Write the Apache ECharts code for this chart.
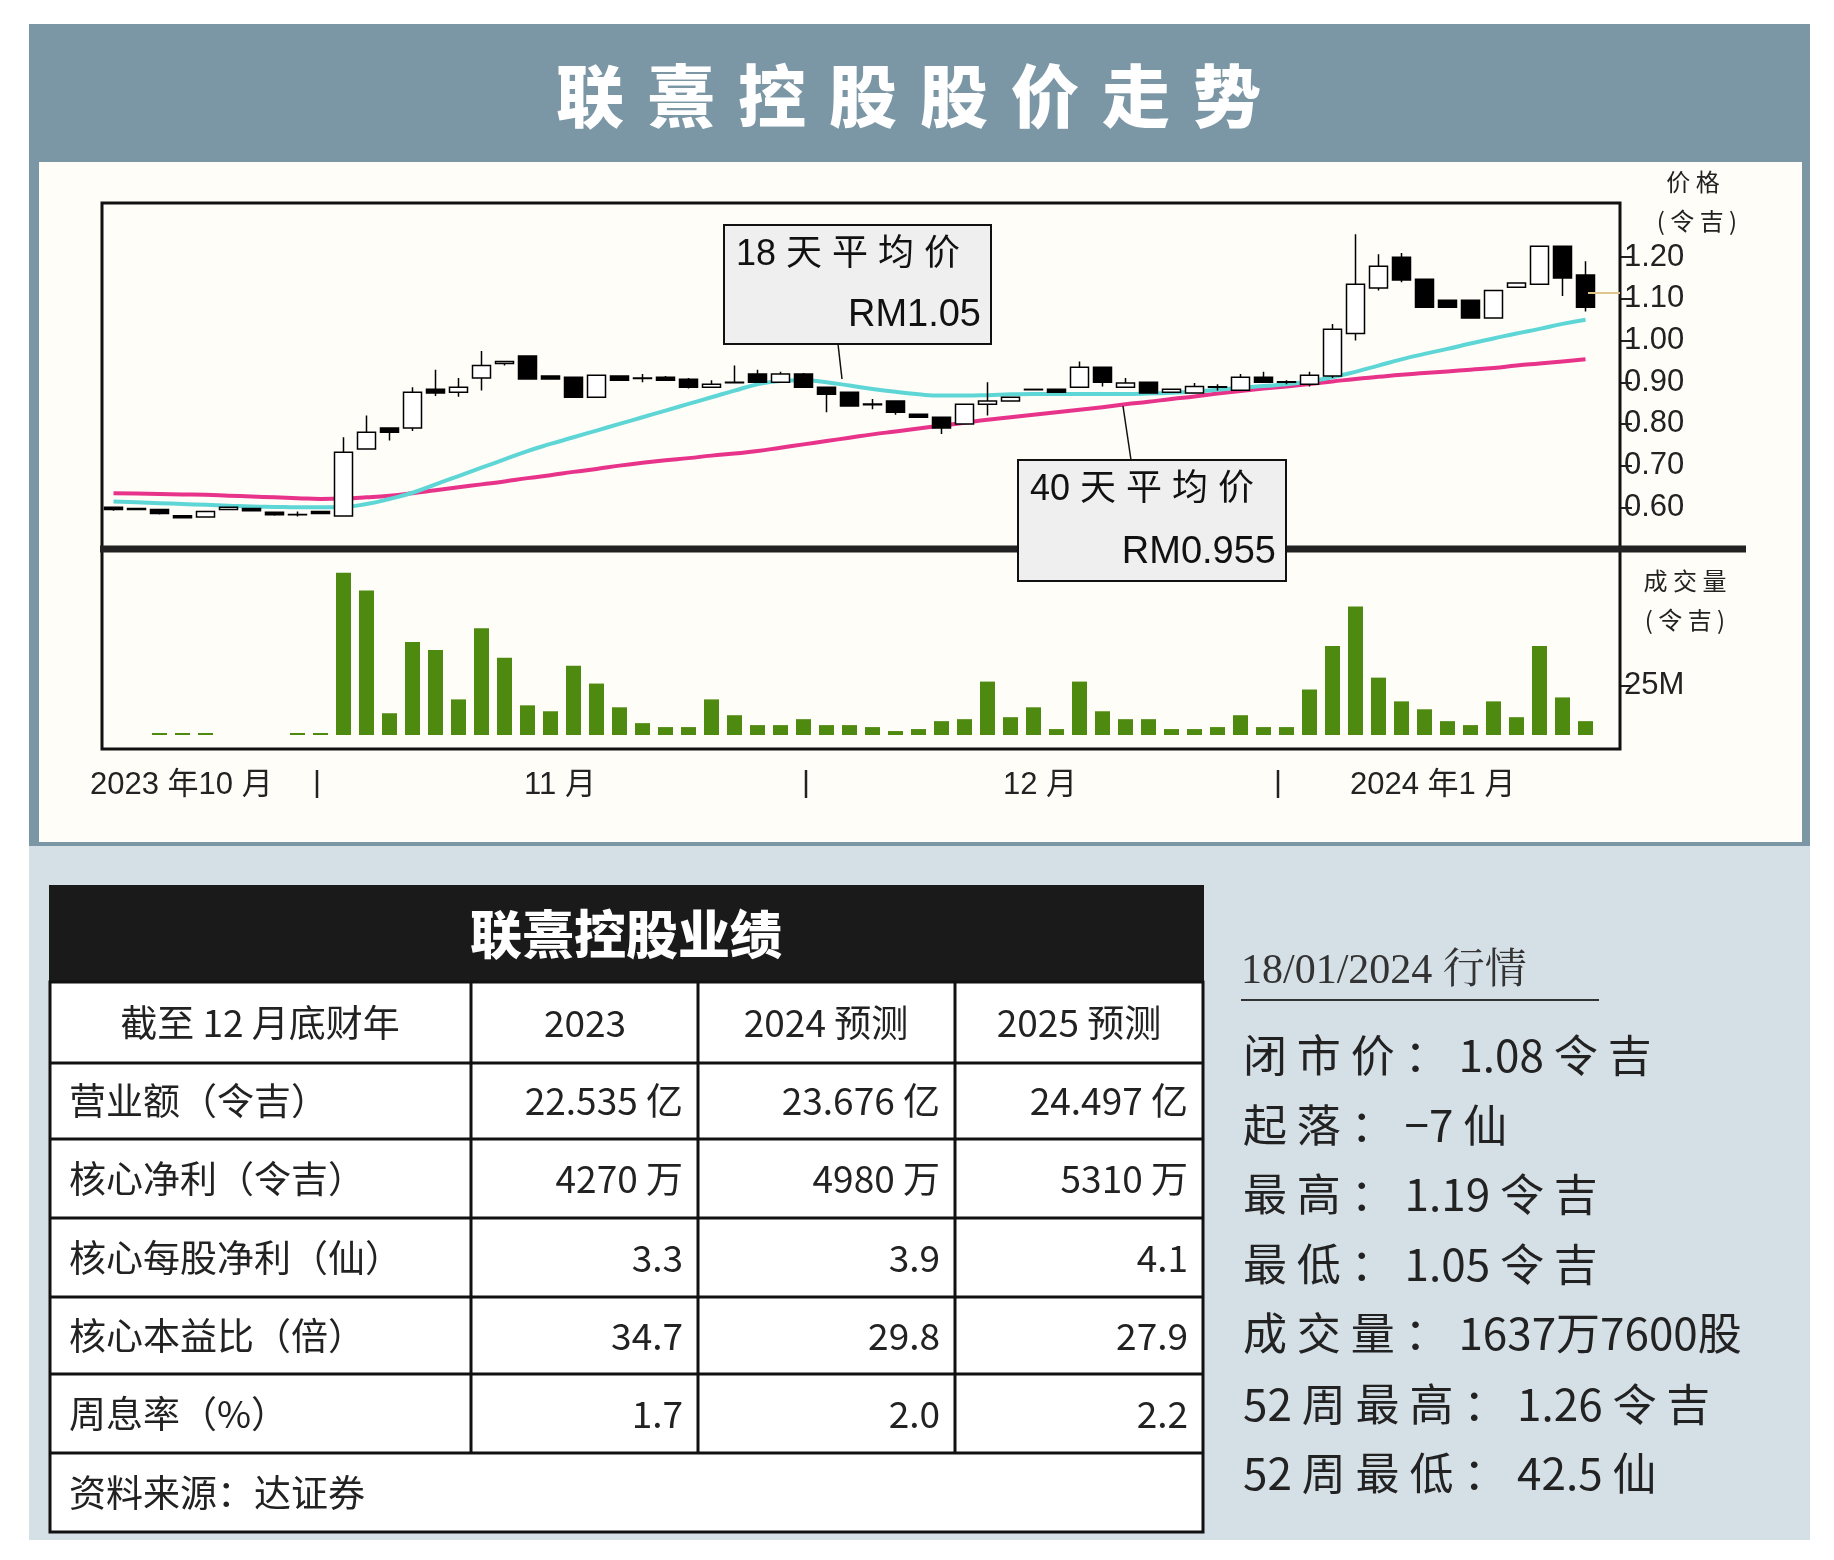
<!DOCTYPE html>
<html><head><meta charset="utf-8">
<script src="https://cdn.jsdelivr.net/npm/echarts@6/dist/echarts.min.js"></script>
<style>html,body{margin:0;padding:0;background:#fff}#c{width:1834px;height:1560px}</style>
</head><body><div id="c"></div>
<script>
const opens=[.600,.595,.595,.580,.577,.595,.597,.588,.583,.590,.579,.740,.790,.790,.883,.876,.910,.945,.963,.915,.912,.864,.915,.910,.912,.907,.888,.900,.920,.900,.920,.888,.876,.848,.855,.823,.816,.800,.847,.855,.883,.883,.888,.936,.888,.900,.876,.874,.889,.881,.912,.901,.895,.915,1.017,1.126,1.200,1.147,1.097,1.097,1.054,1.128,1.135,1.226,1.157];
const closes=[.595,.597,.585,.575,.590,.600,.592,.582,.582,.585,.732,.780,.780,.876,.874,.888,.940,.950,.908,.908,.864,.917,.905,.909,.905,.888,.895,.899,.900,.920,.888,.871,.843,.846,.828,.816,.790,.847,.855,.864,.882,.876,.936,.900,.898,.874,.883,.890,.888,.912,.900,.900,.917,1.027,1.135,1.178,1.145,1.080,1.080,1.054,1.120,1.138,1.226,1.150,1.080];
const lows=[.592,.594,.583,.573,.576,.594,.591,.580,.578,.584,.579,.740,.760,.783,.867,.865,.880,.940,.908,.908,.864,.864,.905,.900,.903,.885,.888,.899,.900,.900,.888,.828,.843,.835,.822,.816,.776,.800,.820,.855,.882,.876,.888,.890,.888,.874,.876,.874,.880,.881,.900,.895,.890,.910,1.000,1.120,1.140,1.080,1.080,1.054,1.054,1.128,1.135,1.107,1.070];
const highs=[.602,.598,.596,.581,.590,.601,.598,.590,.590,.591,.768,.820,.790,.888,.930,.910,.975,.950,.963,.915,.912,.917,.915,.920,.915,.910,.905,.940,.930,.925,.922,.890,.876,.860,.855,.823,.816,.847,.900,.864,.883,.883,.950,.936,.910,.900,.883,.898,.895,.920,.925,.905,.925,1.040,1.255,1.207,1.210,1.147,1.097,1.097,1.120,1.138,1.226,1.226,1.190];
const ma18=[0.614,0.612,0.610,0.608,0.606,0.604,0.602,0.601,0.600,0.600,0.601,0.608,0.620,0.635,0.655,0.675,0.695,0.715,0.735,0.752,0.768,0.784,0.800,0.816,0.832,0.848,0.864,0.880,0.895,0.903,0.905,0.900,0.892,0.884,0.877,0.871,0.868,0.868,0.869,0.871,0.872,0.872,0.872,0.872,0.872,0.873,0.875,0.878,0.882,0.887,0.891,0.895,0.902,0.912,0.925,0.940,0.955,0.968,0.980,0.993,1.005,1.017,1.028,1.040,1.050];
const ma40=[0.634,0.633,0.632,0.631,0.630,0.628,0.626,0.624,0.622,0.620,0.621,0.624,0.628,0.634,0.641,0.648,0.655,0.662,0.670,0.677,0.685,0.692,0.700,0.707,0.713,0.718,0.724,0.729,0.735,0.743,0.751,0.759,0.767,0.775,0.782,0.789,0.796,0.803,0.810,0.816,0.822,0.828,0.834,0.840,0.847,0.853,0.860,0.866,0.873,0.879,0.885,0.890,0.896,0.902,0.908,0.913,0.918,0.922,0.926,0.930,0.934,0.940,0.945,0.950,0.955];
const volumes=[0,0,1,1,1,0,0,0,1,1,82,73,11,47,43,18,54,39,15,12,35,26,14,6,4,4,18,10,5,5,8,5,5,4,2,3,7,8,27,9,14,3,27,12,8,8,3,3,4,10,4,4,23,45,65,29,17,13,7,5,17,9,45,19,7];
const priceTicks=[0.6,0.7,0.8,0.9,1.0,1.1,1.2];
const volTicks=[25];
const monthLabels=['2023 年10 月','11 月','12 月','2024 年1 月'];
const tableHead=['截至 12 月底财年','2023','2024 预测','2025 预测'];
const tableRows=[
 ['营业额（令吉）','22.535 亿','23.676 亿','24.497 亿'],
 ['核心净利（令吉）','4270 万','4980 万','5310 万'],
 ['核心每股净利（仙）','3.3','3.9','4.1'],
 ['核心本益比（倍）','34.7','29.8','27.9'],
 ['周息率（%）','1.7','2.0','2.2']];
const quoteLines=['闭 市 价 ： 1.08 令 吉','起 落 ： −7 仙','最 高 ： 1.19 令 吉','最 低 ： 1.05 令 吉','成 交 量 ： 1637万7600股','52 周 最 高 ： 1.26 令 吉','52 周 最 低 ： 42.5 仙'];

const cats=opens.map((_,i)=>String(i+1)).concat(['']);
const kdata=opens.map((o,i)=>[o,closes[i],lows[i],highs[i]]);
const F='"Liberation Sans","Noto Sans CJK SC",sans-serif';
const CJK='"Noto Sans CJK SC",sans-serif';
const g=[];
g.push({type:'rect',z:-10,shape:{x:29,y:24,width:1781,height:822},style:{fill:'#7b96a4'}});
g.push({type:'rect',z:-9,shape:{x:39,y:162,width:1763,height:680},style:{fill:'#fefdf8'}});
g.push({type:'rect',z:-10,shape:{x:29,y:846,width:1781,height:694},style:{fill:'#d5dfe6'}});
// title chars
const title='联熹控股股价走势';
for(let i=0;i<title.length;i++)g.push({type:'text',style:{text:title[i],x:590+i*91,y:96,fill:'#fff',font:'900 68px "Noto Sans CJK SC"',align:'center',verticalAlign:'middle'}});
// chart borders
g.push({type:'rect',z:50,shape:{x:102,y:203,width:1518,height:546},style:{fill:null,stroke:'#111',lineWidth:3}});
g.push({type:'line',z:50,shape:{x1:100,y1:549,x2:1746,y2:549},style:{stroke:'#222',lineWidth:7}});
g.push({type:'line',z:50,shape:{x1:1588,y1:293,x2:1620,y2:293},style:{stroke:'#e0c58a',lineWidth:2}});
// axis titles
g.push({type:'text',style:{text:'价 格',x:1693,y:182,font:'24px '+CJK,fill:'#222',align:'center',verticalAlign:'middle'}});
g.push({type:'text',style:{text:'( 令 吉 )',x:1697,y:221,font:'24px '+CJK,fill:'#222',align:'center',verticalAlign:'middle'}});
g.push({type:'text',style:{text:'成 交 量',x:1685,y:581,font:'24px '+CJK,fill:'#222',align:'center',verticalAlign:'middle'}});
g.push({type:'text',style:{text:'( 令 吉 )',x:1685,y:620,font:'24px '+CJK,fill:'#222',align:'center',verticalAlign:'middle'}});
// annotation boxes
function box(x,y,w,h,t1,t2){
 g.push({type:'rect',z:60,shape:{x,y,width:w,height:h},style:{fill:'#efefef',stroke:'#111',lineWidth:2}});
 g.push({type:'text',z:61,style:{text:t1,x:x+12,y:y+30,font:'36px '+F,fill:'#111',verticalAlign:'middle'}});
 g.push({type:'text',z:61,style:{text:t2,x:x+w-10,y:y+h-28,font:'38px '+F,fill:'#111',align:'right',verticalAlign:'middle'}});
}
box(724,225,267,119,'18 天 平 均 价','RM1.05');
box(1018,460,268,121,'40 天 平 均 价','RM0.955');
g.push({type:'line',z:59,shape:{x1:838,y1:344,x2:842,y2:379},style:{stroke:'#111',lineWidth:1.5}});
g.push({type:'line',z:59,shape:{x1:1131,y1:460,x2:1123,y2:406},style:{stroke:'#111',lineWidth:1.5}});
// month labels
const mx=[[90,'left'],[560,'center'],[1040,'center'],[1350,'left']];
monthLabels.forEach((t,i)=>g.push({type:'text',style:{text:t,x:mx[i][0],y:785,font:'31px '+F,fill:'#222',align:mx[i][1],verticalAlign:'middle'}}));
[317,806,1278].forEach(x=>g.push({type:'line',shape:{x1:x,y1:770,x2:x,y2:798},style:{stroke:'#222',lineWidth:2.5}}));
// table
g.push({type:'rect',shape:{x:49,y:885,width:1155,height:97},style:{fill:'#1a1a1a'}});
g.push({type:'text',style:{text:'联熹控股业绩',x:626,y:934,font:'900 52px "Noto Sans CJK SC"',fill:'#fff',align:'center',verticalAlign:'middle'}});
g.push({type:'rect',shape:{x:50,y:982,width:1153,height:550},style:{fill:'#fff',stroke:'#111',lineWidth:3}});
const rowY=[982,1063,1139,1218,1297,1374,1453,1532];
for(let i=1;i<7;i++)g.push({type:'line',shape:{x1:50,y1:rowY[i],x2:1203,y2:rowY[i]},style:{stroke:'#111',lineWidth:3}});
[471,698,955].forEach(x=>g.push({type:'line',shape:{x1:x,y1:982,x2:x,y2:1453},style:{stroke:'#111',lineWidth:3}}));
const colC=[260,585,826,1079],colR=[null,683,940,1188];
tableHead.forEach((t,j)=>g.push({type:'text',style:{text:t,x:colC[j],y:(rowY[0]+rowY[1])/2,font:'37px '+CJK,fill:'#222',align:'center',verticalAlign:'middle'}}));
tableRows.forEach((r,i)=>{const y=(rowY[i+1]+rowY[i+2])/2;r.forEach((t,j)=>g.push({type:'text',style:{text:t,x:j==0?69:colR[j],y,font:'37px '+CJK,fill:'#222',align:j==0?'left':'right',verticalAlign:'middle'}}));});
g.push({type:'text',style:{text:'资料来源：达证券',x:69,y:1493,font:'37px '+CJK,fill:'#222',verticalAlign:'middle'}});
// right quote
g.push({type:'text',style:{text:'18/01/2024 行情',x:1241,y:972,font:'42px "Liberation Serif","Noto Serif CJK SC",serif',fill:'#333',verticalAlign:'middle'}});
g.push({type:'line',shape:{x1:1241,y1:1000,x2:1599,y2:1000},style:{stroke:'#333',lineWidth:2}});
const qy=[1055,1125,1194,1264,1333,1404,1473];
quoteLines.forEach((t,i)=>g.push({type:'text',style:{text:t,x:1243,y:qy[i],font:'44px '+CJK,fill:'#222',verticalAlign:'middle'}}));

const chart=echarts.init(document.getElementById('c'));
chart.setOption({
 animation:false,
 graphic:{elements:g},
 grid:[{left:102,top:203,width:1518,height:346},{left:102,top:553,width:1518,height:182}],
 xAxis:[{type:'category',data:cats,gridIndex:0,show:false,boundaryGap:true},{type:'category',data:cats,gridIndex:1,show:false,boundaryGap:true}],
 yAxis:[{type:'value',gridIndex:0,position:'right',min:0.5,max:1.33,splitLine:{show:false},axisLine:{show:false},
   axisTick:{show:true,length:12,lineStyle:{color:'#222',width:2},customValues:priceTicks},
   axisLabel:{customValues:priceTicks,formatter:v=>v.toFixed(2),fontSize:31,color:'#222',margin:4,fontFamily:'Liberation Sans'}},
  {type:'value',gridIndex:1,position:'right',min:0,max:92,splitLine:{show:false},axisLine:{show:false},
   axisTick:{show:true,length:12,lineStyle:{color:'#222',width:2},customValues:volTicks},
   axisLabel:{customValues:volTicks,formatter:v=>v+'M',fontSize:31,color:'#222',margin:4,fontFamily:'Liberation Sans'}}],
 series:[
  {type:'line',data:ma40,xAxisIndex:0,yAxisIndex:0,symbol:'none',smooth:true,lineStyle:{color:'#e8338a',width:4},z:2},
  {type:'line',data:ma18,xAxisIndex:0,yAxisIndex:0,symbol:'none',smooth:true,lineStyle:{color:'#5fd6d6',width:4},z:3},
  {type:'candlestick',data:kdata,xAxisIndex:0,yAxisIndex:0,barWidth:19,z:4,
   itemStyle:{color:'#fff',color0:'#000',borderColor:'#000',borderColor0:'#000',borderWidth:1.5}},
  {type:'bar',data:volumes,xAxisIndex:1,yAxisIndex:1,barWidth:15,itemStyle:{color:'#4f8a10'}}
 ]
});
</script></body></html>
